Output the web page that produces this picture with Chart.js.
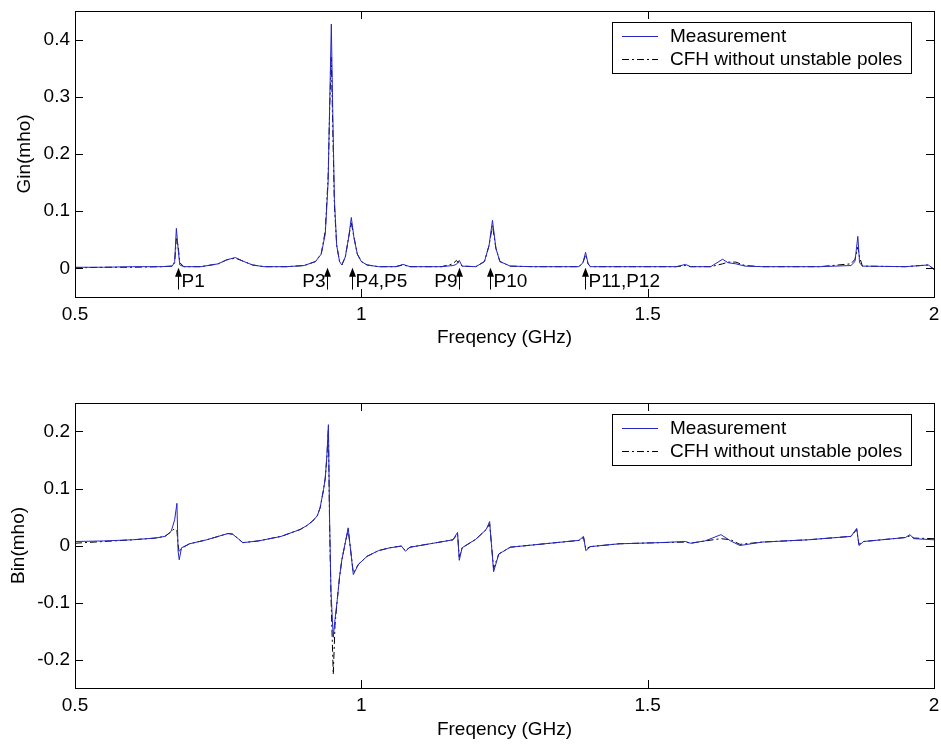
<!DOCTYPE html>
<html>
<head>
<meta charset="utf-8">
<script src="https://cdn.jsdelivr.net/npm/chart.js@4.4.1/dist/chart.umd.min.js"></script>
<style>
    body { margin: 0; background: #fff; }
    .panel { position: absolute; left: 0; width: 941px; height: 372px; }
</style>
</head>
<body>
<div class="panel" style="top:0"><canvas id="ginChart" width="941" height="372"></canvas></div>
<div class="panel" style="top:372px"><canvas id="binChart" width="941" height="372"></canvas></div>
<script>
// ---- data ----
const seriesNames = ['Measurement', 'CFH without unstable poles'];
const freqTicks = [0.5, 1, 1.5, 2];
const ginTicks = [0, 0.1, 0.2, 0.3, 0.4];
const binTicks = [-0.2, -0.1, 0, 0.1, 0.2];

// Gin (top)
const ginFreq = [0.50, 0.55, 0.60, 0.65, 0.670, 0.674, 0.677, 0.680, 0.683, 0.690, 0.72, 0.75, 0.765, 0.780, 0.795, 0.81, 0.83, 0.87, 0.90, 0.92,
    0.930, 0.937, 0.942, 0.945, 0.9476, 0.950, 0.953, 0.957, 0.962, 0.966, 0.972, 0.978, 0.9825, 0.987, 0.993, 1.00, 1.01, 1.03, 1.06, 1.073,
    1.085, 1.14, 1.160, 1.166, 1.171, 1.176, 1.20, 1.215, 1.223, 1.229, 1.235, 1.242, 1.26, 1.30, 1.38, 1.387, 1.3916, 1.396, 1.40, 1.48,
    1.55, 1.566, 1.575, 1.61, 1.631, 1.640, 1.654, 1.67, 1.70, 1.80, 1.855, 1.862, 1.867, 1.870, 1.875, 1.95, 1.99, 2.00];
const ginMeas = [0.002, 0.002, 0.003, 0.003, 0.004, 0.012, 0.070, 0.035, 0.006, 0.003, 0.003, 0.008, 0.015, 0.019, 0.012, 0.006, 0.003, 0.003, 0.005, 0.012,
    0.025, 0.060, 0.150, 0.300, 0.427, 0.280, 0.120, 0.040, 0.012, 0.006, 0.020, 0.055, 0.089, 0.055, 0.025, 0.012, 0.006, 0.003, 0.003, 0.007,
    0.003, 0.003, 0.005, 0.007, 0.014, 0.004, 0.003, 0.012, 0.040, 0.084, 0.035, 0.012, 0.004, 0.003, 0.003, 0.010, 0.028, 0.008, 0.003, 0.003,
    0.003, 0.007, 0.003, 0.003, 0.016, 0.010, 0.008, 0.004, 0.003, 0.003, 0.005, 0.012, 0.056, 0.010, 0.004, 0.003, 0.006, -0.001];
const ginCfh = [0.001, 0.002, 0.002, 0.003, 0.004, 0.010, 0.052, 0.040, 0.010, 0.003, 0.003, 0.008, 0.015, 0.018, 0.012, 0.006, 0.003, 0.003, 0.005, 0.012,
    0.026, 0.065, 0.160, 0.290, 0.369, 0.250, 0.110, 0.040, 0.012, 0.006, 0.020, 0.055, 0.080, 0.055, 0.025, 0.012, 0.006, 0.003, 0.003, 0.006,
    0.003, 0.003, 0.008, 0.014, 0.008, 0.004, 0.003, 0.012, 0.040, 0.075, 0.035, 0.012, 0.004, 0.003, 0.003, 0.010, 0.024, 0.008, 0.003, 0.003,
    0.003, 0.005, 0.003, 0.003, 0.008, 0.011, 0.011, 0.005, 0.003, 0.003, 0.008, 0.016, 0.037, 0.020, 0.004, 0.003, 0.006, -0.002];

// pole markers on the Gin plot
const poleFreq = [0.680, 0.9406, 0.9843, 1.1713, 1.2255, 1.390];
const poleLabels = ['P1', 'P3', 'P4,P5', 'P9', 'P10', 'P11,P12'];
const poleSide = ['right', 'left', 'right', 'left', 'right', 'right'];

// Bin (bottom)
const binFreq = [0.50, 0.55, 0.60, 0.64, 0.657, 0.668, 0.674, 0.678, 0.680, 0.682, 0.686, 0.70, 0.73, 0.767, 0.775, 0.785, 0.793, 0.82, 0.86, 0.893,
    0.905, 0.915, 0.923, 0.928, 0.934, 0.937, 0.940, 0.9425, 0.9445, 0.947, 0.951, 0.954, 0.958, 0.962, 0.966, 0.972, 0.977, 0.986, 0.995, 1.01,
    1.03, 1.05, 1.07, 1.077, 1.085, 1.12, 1.16, 1.168, 1.171, 1.176, 1.20, 1.218, 1.224, 1.231, 1.240, 1.26, 1.32, 1.38, 1.388, 1.392,
    1.40, 1.45, 1.52, 1.566, 1.575, 1.60, 1.628, 1.645, 1.661, 1.70, 1.78, 1.855, 1.865, 1.869, 1.877, 1.95, 1.958, 1.965, 2.00];
const binMeas = [0.007, 0.008, 0.010, 0.013, 0.016, 0.025, 0.045, 0.074, -0.010, -0.025, -0.004, 0.003, 0.010, 0.021, 0.020, 0.012, 0.005, 0.008, 0.016, 0.028,
    0.035, 0.043, 0.052, 0.066, 0.098, 0.118, 0.160, 0.212, 0.050, -0.080, -0.161, -0.130, -0.095, -0.055, -0.025, 0.005, 0.031, -0.051, -0.033, -0.019,
    -0.009, -0.004, -0.001, -0.010, -0.003, 0.003, 0.010, 0.023, -0.026, -0.004, 0.011, 0.028, 0.042, -0.046, -0.015, -0.003, 0.003, 0.009, 0.016, -0.009,
    -0.002, 0.003, 0.005, 0.007, 0.004, 0.008, 0.019, 0.008, 0.000, 0.006, 0.010, 0.016, 0.030, 0.000, 0.007, 0.014, 0.019, 0.012, 0.010];
const binCfh = [0.004, 0.007, 0.010, 0.013, 0.016, 0.024, 0.030, 0.026, 0.002, -0.012, -0.005, 0.003, 0.010, 0.021, 0.020, 0.012, 0.005, 0.008, 0.016, 0.028,
    0.035, 0.043, 0.052, 0.066, 0.098, 0.118, 0.158, 0.205, 0.040, -0.090, -0.226, -0.140, -0.095, -0.055, -0.025, 0.005, 0.028, -0.048, -0.033, -0.019,
    -0.009, -0.004, -0.001, -0.009, -0.003, 0.003, 0.010, 0.020, -0.020, -0.004, 0.011, 0.028, 0.038, -0.040, -0.015, -0.003, 0.003, 0.009, 0.014, -0.006,
    -0.002, 0.003, 0.005, 0.006, 0.004, 0.008, 0.012, 0.010, 0.002, 0.006, 0.010, 0.016, 0.028, 0.002, 0.007, 0.014, 0.017, 0.013, 0.012];

// ---- drawing ----
const FONT = '"Liberation Sans", Arial, sans-serif';
const FONT_SIZE = 19;
Chart.defaults.font.family = FONT;
Chart.defaults.font.size = FONT_SIZE;
Chart.defaults.color = '#000';

function toPoints(xs, ys) {
    return xs.map((x, i) => ({ x: x, y: ys[i] }));
}

function fmt(v) {
    return String(+v.toFixed(2));
}

// MATLAB style box, inward ticks and legend
const boxPlugin = {
    id: 'box',
    afterDatasetsDraw(chart) {
        const ctx = chart.ctx;
        const a = chart.chartArea;
        const xs = chart.scales.x, ys = chart.scales.y;
        const len = 8;
        ctx.save();
        ctx.strokeStyle = '#000';
        ctx.lineWidth = 1;
        ctx.strokeRect(Math.round(a.left) + 0.5, Math.round(a.top) + 0.5,
            Math.round(a.right - a.left), Math.round(a.bottom - a.top));
        ctx.beginPath();
        xs.ticks.forEach(t => {
            const px = Math.round(xs.getPixelForValue(t.value)) + 0.5;
            ctx.moveTo(px, a.bottom); ctx.lineTo(px, a.bottom - len);
            ctx.moveTo(px, a.top); ctx.lineTo(px, a.top + len);
        });
        ys.ticks.forEach(t => {
            const py = Math.round(ys.getPixelForValue(t.value)) + 0.5;
            ctx.moveTo(a.left, py); ctx.lineTo(a.left + len, py);
            ctx.moveTo(a.right, py); ctx.lineTo(a.right - len, py);
        });
        ctx.stroke();

        // legend
        const bx = 612 + 0.5, by = Math.round(a.top) + 11 + 0.5;
        ctx.font = FONT_SIZE + 'px ' + FONT;
        let tw = 0;
        chart.data.datasets.forEach(d => { tw = Math.max(tw, ctx.measureText(d.label).width); });
        const bw = Math.round(670 - 612 + tw + 9), bh = 51;
        ctx.fillStyle = '#fff';
        ctx.fillRect(bx, by, bw, bh);
        ctx.strokeStyle = '#000';
        ctx.strokeRect(bx, by, bw, bh);
        chart.data.datasets.forEach((d, i) => {
            const ry = Math.round(by + 13 + i * 23) + 0.5;
            ctx.beginPath();
            ctx.strokeStyle = d.borderColor;
            ctx.setLineDash(d.borderDash || []);
            ctx.moveTo(622, ry); ctx.lineTo(658, ry);
            ctx.stroke();
            ctx.setLineDash([]);
            ctx.fillStyle = '#000';
            ctx.textBaseline = 'middle';
            ctx.textAlign = 'left';
            ctx.fillText(d.label, 670, ry);
        });
        ctx.restore();
    }
};

// arrows with pole labels
const arrowPlugin = {
    id: 'poles',
    afterDatasetsDraw(chart, args, opts) {
        if (!opts.freqs) return;
        const ctx = chart.ctx;
        const xs = chart.scales.x, ys = chart.scales.y;
        ctx.save();
        ctx.fillStyle = '#000';
        ctx.strokeStyle = '#000';
        ctx.lineWidth = 1;
        ctx.font = FONT_SIZE + 'px ' + FONT;
        ctx.textBaseline = 'middle';
        opts.freqs.forEach((f, i) => {
            const px = Math.round(xs.getPixelForValue(f)) + 0.5;
            const tip = ys.getPixelForValue(0.001);
            const tail = ys.getPixelForValue(-0.037);
            ctx.beginPath();
            ctx.moveTo(px, tail); ctx.lineTo(px, tip + 6);
            ctx.stroke();
            ctx.beginPath();
            ctx.moveTo(px, tip);
            ctx.lineTo(px - 3.5, tip + 9);
            ctx.lineTo(px + 3.5, tip + 9);
            ctx.closePath();
            ctx.fill();
            const ty = ys.getPixelForValue(-0.023);
            if (opts.sides[i] === 'left') {
                ctx.textAlign = 'right';
                ctx.fillText(opts.labels[i], px - 2, ty);
            } else {
                ctx.textAlign = 'left';
                ctx.fillText(opts.labels[i], px + 3, ty);
            }
        });
        ctx.restore();
    }
};

function makeChart(id, freq, meas, cfh, yTicks, yMin, yMax, yTitle, layout) {
    return new Chart(document.getElementById(id), {
        type: 'line',
        data: {
            datasets: [{
                label: seriesNames[0],
                data: toPoints(freq, meas),
                borderColor: '#2424c8',
                borderWidth: 1,
                pointRadius: 0,
                tension: 0
            }, {
                label: seriesNames[1],
                data: toPoints(freq, cfh),
                borderColor: '#000',
                borderWidth: 1,
                borderDash: [7, 3, 2, 3],
                pointRadius: 0,
                tension: 0
            }]
        },
        options: {
            responsive: false,
            animation: false,
            layout: { padding: { top: layout.top, right: 7, left: 0, bottom: 0 } },
            plugins: {
                legend: { display: false },
                tooltip: { enabled: false },
                poles: layout.poles || {}
            },
            scales: {
                x: {
                    type: 'linear',
                    min: 0.5,
                    max: 2,
                    afterBuildTicks: s => { s.ticks = freqTicks.map(v => ({ value: v })); },
                    afterFit: s => { s.height = layout.xHeight; s.paddingRight = 0; },
                    grid: { display: false, drawTicks: false },
                    border: { display: false },
                    ticks: { padding: 6, maxRotation: 0, callback: v => fmt(v) },
                    title: { display: true, text: 'Freqency (GHz)', padding: { top: 0, bottom: layout.xTitlePad } }
                },
                y: {
                    type: 'linear',
                    min: yMin,
                    max: yMax,
                    afterBuildTicks: s => { s.ticks = yTicks.map(v => ({ value: v })); },
                    afterFit: s => { s.width = 75; s.paddingTop = 0; s.paddingBottom = 0; },
                    grid: { display: false, drawTicks: false },
                    border: { display: false },
                    ticks: { padding: 5, callback: v => fmt(v) },
                    title: { display: true, text: yTitle, padding: { top: layout.yTitlePad, bottom: 0 } }
                }
            }
        },
        plugins: [boxPlugin, arrowPlugin]
    });
}

makeChart('ginChart', ginFreq, ginMeas, ginCfh, ginTicks, -0.05, 0.45, 'Gin(mho)', {
    top: 11, xHeight: 75, xTitlePad: 23, yTitlePad: 13,
    poles: { freqs: poleFreq, labels: poleLabels, sides: poleSide }
});
makeChart('binChart', binFreq, binMeas, binCfh, binTicks, -0.25, 0.25, 'Bin(mho)', {
    top: 31, xHeight: 56, xTitlePad: 3, yTitlePad: 7
});
</script>
</body>
</html>
